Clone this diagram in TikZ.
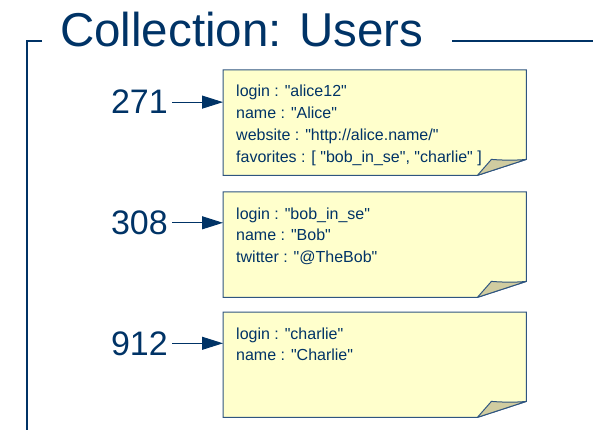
\documentclass[tikz,border=0pt]{standalone}
\usepackage{fontspec}
\setmainfont{Liberation Sans}[Ligatures=TeXOff]
\usetikzlibrary{arrows.meta,calc}
\definecolor{navy}{HTML}{003366}
\definecolor{noteedge}{HTML}{2F5580}
\definecolor{notefill}{HTML}{FFFFCC}
\definecolor{foldfill}{HTML}{D0CCA0}
\tikzset{
  notebox/.style={draw=none,minimum width=303pt,minimum height=105pt,inner sep=0pt,anchor=north west},
  numlabel/.style={inner sep=0pt,anchor=base east,text=navy,font=\fontsize{34}{34}\selectfont},
  notetext/.style={inner sep=0pt,anchor=base west,text=navy,font=\fontsize{16}{21.7}\selectfont},
  ptr/.style={draw=navy,line width=1pt,-{Triangle[length=21pt,width=13pt]},shorten <=4pt},
  noteoutline/.style={draw=noteedge,line width=1pt,fill=notefill},
  foldstyle/.style={draw=noteedge,line width=1pt,fill=foldfill,line join=round},
  frameline/.style={draw=navy,line width=2pt},
}
\newcommand{\stickynote}[1]{%
  \path[noteoutline] (#1.north west) -- (#1.north east) -- ($(#1.south east)+(0,-16)$) -- ($(#1.south east)+(-49,0)$) -- (#1.south west) -- cycle;
  \path[foldstyle] ($(#1.south east)+(-49,0)$) -- ($(#1.south east)+(-35,-16)$) .. controls ($(#1.south east)+(-22,-15)$) and ($(#1.south east)+(-10,-15)$) .. ($(#1.south east)+(0,-16)$) -- cycle;
}
\newcommand{\lines}[1]{\begin{tabular}[t]{@{}l@{}}#1\end{tabular}}
\begin{document}
\begin{tikzpicture}[x=1pt,y=-1pt]
\useasboundingbox (0,0) rectangle (593,430);
% title and frame
\node[inner sep=0pt,anchor=base west,text=navy,font=\fontsize{47.5}{47.5}\selectfont] (title) at (60,47) {Collection: Users};
\coordinate (fl) at (27,41);
\coordinate (ft) at (42,41);
\coordinate (fb) at (27,432);
\coordinate (rl) at (452,41);
\coordinate (rr) at (595,41);
\draw[frameline] (ft) -- (fl) -- (fb);
\draw[draw=navy,line width=1.6pt] (rl) -- (rr);
% notes
\node[notebox] (n1) at (223,70) {};
\node[notebox] (n2) at (223,192) {};
\node[notebox] (n3) at (223,312) {};
\stickynote{n1}
\stickynote{n2}
\stickynote{n3}
\node[notetext] (t1) at (236,97) {\lines{login : "alice12"\\name : "Alice"\\website : "http://alice.name/"\\favorites : [ "bob\_in\_se", "charlie" ]}};
\node[notetext] (t2) at (236,219) {\lines{login : "bob\_in\_se"\\name : "Bob"\\twitter : "@TheBob"}};
\node[notetext] (t3) at (236,339) {\lines{login : "charlie"\\name : "Charlie"}};
% numbers and pointers
\node[numlabel] (k1) at (168,114) {271};
\node[numlabel] (k2) at (168,234.5) {308};
\node[numlabel] (k3) at (168,355) {912};
\draw[ptr] (k1.east) -- (k1.east -| n1.west);
\draw[ptr] (k2.east) -- (k2.east -| n2.west);
\draw[ptr] (k3.east) -- (k3.east -| n3.west);
\end{tikzpicture}
\end{document}
